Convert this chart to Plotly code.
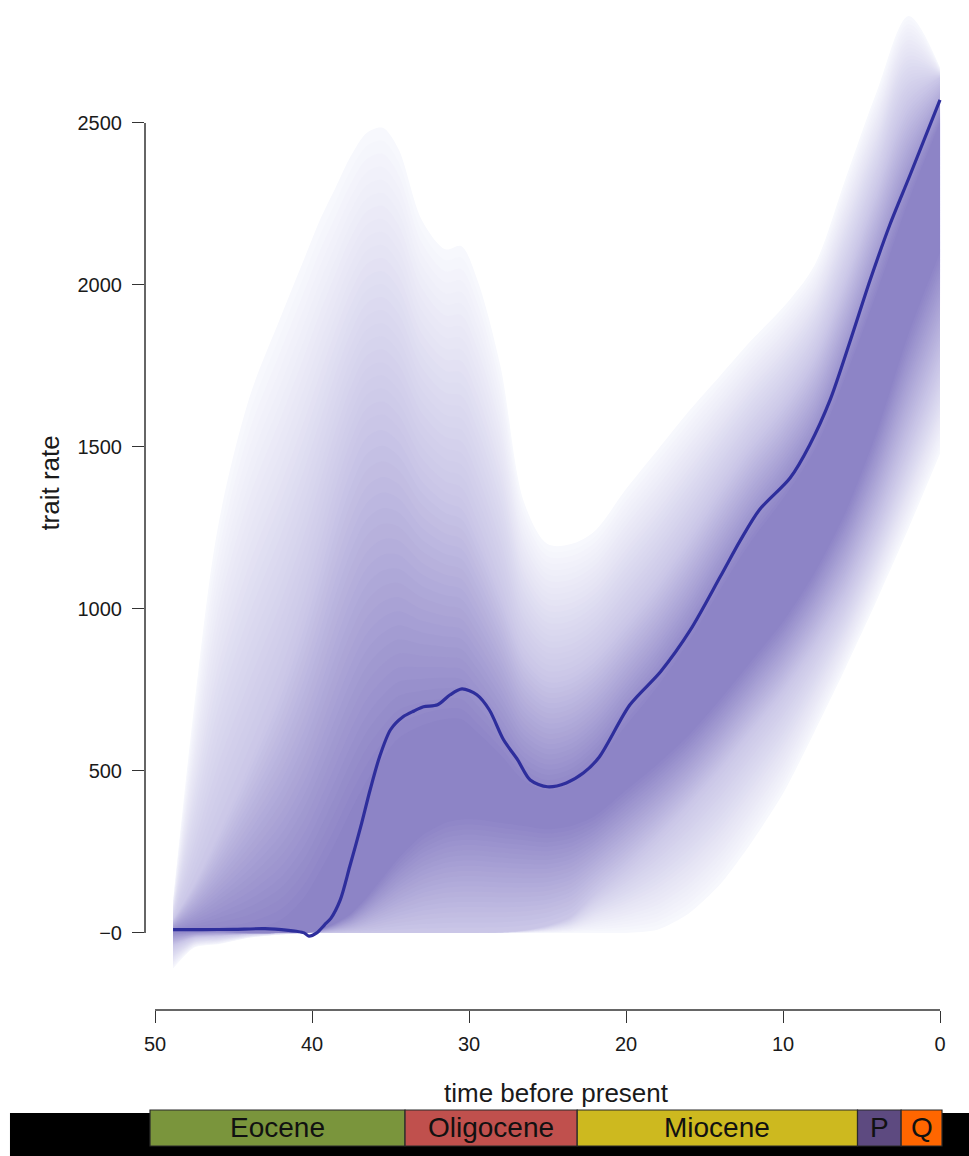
import plotly.graph_objects as go

# ---------------- data ----------------
# time grid for the rate-density bands (Ma before present)
band_time = [48.85, 47.5, 46, 44, 42, 40.5, 39.5, 38.5, 37.5, 36.5, 35.5, 34.5, 33, 31.5, 30.5,
             29.5, 28, 26.5, 25, 23.5, 22, 20, 18, 16, 14, 12, 10, 8, 6, 4, 2, 0]
outer_hi = [100, 700, 1250, 1650, 1900, 2080, 2200, 2300, 2400, 2470, 2485, 2420, 2200, 2110, 2120,
            2020, 1750, 1330, 1200, 1200, 1240, 1370, 1490, 1610, 1720, 1830, 1930, 2060, 2330, 2600, 2830, 2670]
outer_lo = [-110, -45, -35, -15, -5, 0, 0, 0, 0, 0, 0, 0, 0, 0, 0,
            0, 0, 0, 0, 0, 0, 0, 10, 60, 150, 280, 430, 620, 820, 1030, 1250, 1480]
mid_hi = [40, 150, 300, 520, 760, 980, 1150, 1330, 1480, 1580, 1600, 1560, 1430, 1360, 1340,
          1240, 1050, 860, 790, 800, 850, 960, 1080, 1220, 1370, 1510, 1630, 1780, 2020, 2300, 2560, 2640]
mid_lo = [-40, -15, -10, -3, 0, 0, 0, 0, 0, 0, 0, 0, 0, 0, 0,
          0, 2, 8, 22, 50, 120, 200, 290, 390, 500, 620, 740, 880, 1040, 1250, 1500, 1750]
core_hi = [5, 5, 5, 10, 40, 110, 190, 280, 380, 470, 540, 600, 640, 660, 660,
           620, 550, 470, 440, 460, 520, 640, 760, 900, 1060, 1210, 1340, 1490, 1720, 1980, 2260, 2500]
core_lo = [5, 5, 5, 0, 0, 0, 10, 30, 60, 110, 170, 230, 300, 340, 350,
           350, 340, 330, 320, 330, 360, 440, 520, 610, 720, 840, 960, 1110, 1300, 1550, 1850, 2100]

# mean rate through time
mean_time = [48.85, 47, 45, 43, 41.5, 41.0, 40.5, 40.2, 39.7, 39.2, 38.8, 38.2, 37.6, 36.9, 36.3,
             35.7, 35.0, 34.2, 33.5, 32.9, 32.0, 31.2, 30.45, 29.5, 28.7, 27.8, 26.9, 26.1, 25.0,
             23.8, 22.7, 21.7, 19.75, 17.8, 15.9, 14.0, 12.7, 11.5, 9.55, 8.3, 7.0, 5.7, 4.45,
             3.2, 1.9, 0]
mean_rate = [10, 10, 11, 13, 8, 5, 0, -10, 0, 25, 45, 102, 204, 327, 441,
             543, 627, 667, 685, 698, 704, 735, 753, 735, 688, 596, 534, 472, 451,
             463, 494, 543, 704, 806, 935, 1099, 1213, 1306, 1404, 1506, 1645, 1830, 2015,
             2185, 2340, 2571]

# axes ticks
x_ticks = [50, 40, 30, 20, 10, 0]
y_ticks = [0, 500, 1000, 1500, 2000, 2500]
y_ticktext = ["\u22120", "500", "1000", "1500", "2000", "2500"]

# geological time scale
epoch_names = ["Eocene", "Oligocene", "Miocene", "P", "Q"]
epoch_start = [50, 33.9, 23.03, 5.333, 2.58]
epoch_end = [33.9, 23.03, 5.333, 2.58, 0]
epoch_colors = ["#7a953c", "#c0504d", "#cdb91f", "#5d4a80", "#ff6600"]

# ---------------- styling ----------------
FONT = "Liberation Sans, Arial, Helvetica, sans-serif"
c_outer = (247, 248, 253)
c_mid = (202, 198, 231)
c_core = (141, 132, 198)
line_color = "#2e2e9c"


def lerp(a, b, g):
    return [ai + (bi - ai) * g for ai, bi in zip(a, b)]


def col(a, b, g):
    return "rgb(%d,%d,%d)" % tuple(round(ai + (bi - ai) * g) for ai, bi in zip(a, b))


fig = go.Figure()

N = 44
for k in range(N + 1):
    f = k / N
    if f <= 0.5:
        g = f / 0.5
        lo = lerp(outer_lo, mid_lo, g)
        hi = lerp(outer_hi, mid_hi, g)
        c = col(c_outer, c_mid, g)
    else:
        g = (f - 0.5) / 0.5
        lo = lerp(mid_lo, core_lo, g)
        hi = lerp(mid_hi, core_hi, g)
        c = col(c_mid, c_core, g)
    fig.add_trace(go.Scatter(x=band_time, y=lo, mode="lines",
                             line=dict(width=0, shape="spline", smoothing=0.7, color=c),
                             hoverinfo="skip", showlegend=False))
    fig.add_trace(go.Scatter(x=band_time, y=hi, mode="lines", fill="tonexty", fillcolor=c,
                             line=dict(width=0, shape="spline", smoothing=0.9, color=c),
                             hoverinfo="skip", showlegend=False))

fig.add_trace(go.Scatter(x=mean_time, y=mean_rate, mode="lines",
                         line=dict(color=line_color, width=3.2, shape="spline", smoothing=0.8),
                         showlegend=False))

# invisible helper trace on the time-scale axis
fig.add_trace(go.Scatter(x=[epoch_start[0], epoch_end[-1]], y=[0, 0], xaxis="x2", mode="lines",
                         line=dict(width=0), hoverinfo="skip", showlegend=False))

tickfont = dict(family=FONT, size=20, color="#1a1a1a")
fig.update_layout(
    width=969, height=1156,
    margin=dict(l=145, r=14, t=5, b=146),
    plot_bgcolor="white", paper_bgcolor="white",
    showlegend=False,
    xaxis=dict(range=[50.637, -0.955], tickvals=x_ticks, ticktext=[str(v) for v in x_ticks],
               ticks="outside", ticklen=12, tickwidth=1.3, tickcolor="#333",
               showline=False, showgrid=False, zeroline=False, tickfont=tickfont,
               ticklabelstandoff=4),
    xaxis2=dict(range=[50.316, -0.821], overlaying="x", visible=False),
    yaxis=dict(range=[-238, 2864], tickvals=y_ticks, ticktext=y_ticktext,
               ticks="outside", ticklen=12, tickwidth=1.3, tickcolor="#333",
               showline=False, showgrid=False, zeroline=False, tickfont=tickfont,
               ticklabelstandoff=6),
)

# partial axis lines (R style)
fig.add_shape(type="line", xref="x", yref="paper", x0=x_ticks[0], x1=x_ticks[-1], y0=0, y1=0,
              line=dict(color="#333", width=1.5))
fig.add_shape(type="line", xref="paper", yref="y", x0=0, x1=0, y0=y_ticks[0], y1=y_ticks[-1],
              line=dict(color="#333", width=1.5))

# axis titles
fig.add_annotation(text="time before present", xref="paper", yref="paper", x=0.5086, y=-0.0826,
                   xanchor="center", yanchor="middle",
                   showarrow=False, font=dict(family=FONT, size=26, color="#1a1a1a"))
fig.add_annotation(text="trait rate", xref="paper", yref="paper", x=-0.117, y=0.524, textangle=-90,
                   xanchor="center", yanchor="middle",
                   showarrow=False, font=dict(family=FONT, size=26, color="#1a1a1a"))

# time scale bar
fig.add_shape(type="rect", xref="paper", yref="paper", x0=-0.1667, x1=1.02, y0=-0.1453, y1=-0.1025,
              fillcolor="black", line=dict(width=0), layer="above")
for name, s, e, c in zip(epoch_names, epoch_start, epoch_end, epoch_colors):
    fig.add_shape(type="rect", xref="x2", yref="paper", x0=s, x1=e, y0=-0.1353, y1=-0.0995,
                  fillcolor=c, line=dict(color="#2a2a2a", width=1.2), layer="above")
    fig.add_annotation(text=name, xref="x2", yref="paper", x=(s + e) / 2, y=-0.1174,
                       xanchor="center", yanchor="middle",
                       showarrow=False, font=dict(family=FONT, size=28, color="#111"))

fig.write_html("out.html", post_script="document.body.style.margin='0';",
               config={"displayModeBar": False})
